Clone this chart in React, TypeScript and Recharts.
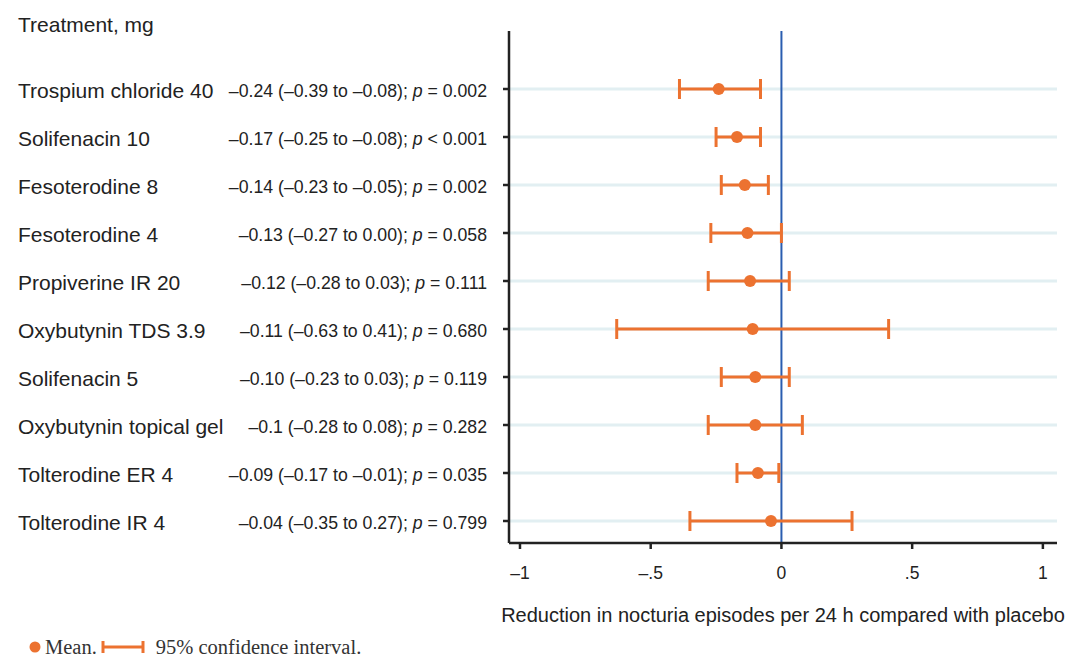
import { ScatterChart, Scatter, XAxis, YAxis, ReferenceLine, ErrorBar } from "recharts";

const treatments = [
  "Trospium chloride 40",
  "Solifenacin 10",
  "Fesoterodine 8",
  "Fesoterodine 4",
  "Propiverine IR 20",
  "Oxybutynin TDS 3.9",
  "Solifenacin 5",
  "Oxybutynin topical gel",
  "Tolterodine ER 4",
  "Tolterodine IR 4",
];
const means = [-0.24, -0.17, -0.14, -0.13, -0.12, -0.11, -0.1, -0.1, -0.09, -0.04];
const ciLow = [-0.39, -0.25, -0.23, -0.27, -0.28, -0.63, -0.23, -0.28, -0.17, -0.35];
const ciHigh = [-0.08, -0.08, -0.05, 0.0, 0.03, 0.41, 0.03, 0.08, -0.01, 0.27];
const effectLabels = [
  "–0.24 (–0.39 to –0.08); ",
  "–0.17 (–0.25 to –0.08); ",
  "–0.14 (–0.23 to –0.05); ",
  "–0.13 (–0.27 to 0.00); ",
  "–0.12 (–0.28 to 0.03); ",
  "–0.11 (–0.63 to 0.41); ",
  "–0.10 (–0.23 to 0.03); ",
  "–0.1 (–0.28 to 0.08); ",
  "–0.09 (–0.17 to –0.01); ",
  "–0.04 (–0.35 to 0.27); ",
];
const pLabels = ["= 0.002", "< 0.001", "= 0.002", "= 0.058", "= 0.111", "= 0.680", "= 0.119", "= 0.282", "= 0.035", "= 0.799"];
const xTicks = [-1, -0.5, 0, 0.5, 1];
const xTickLabels = ["–1", "–.5", "0", ".5", "1"];

const ORANGE = "#ec7230";
const INK = "#222";

const rows = treatments.map((name, i) => ({
  name,
  mean: means[i],
  ci: [means[i] - ciLow[i], ciHigh[i] - means[i]],
}));

function RowTick(props: any) {
  const { y, payload } = props;
  const i = treatments.indexOf(payload.value);
  return (
    <g>
      <text x={18} y={y} dy={8.5} fontSize={21} fill={INK}>
        {payload.value}
      </text>
      <text x={487} y={y} dy={7.5} fontSize={17.7} fill={INK} textAnchor="end">
        {effectLabels[i]}
        <tspan fontStyle="italic">p</tspan>
        {" " + pLabels[i]}
      </text>
    </g>
  );
}

function Dot(props: any) {
  const { cx, cy } = props;
  return <circle cx={cx} cy={cy} r={6} fill={ORANGE} />;
}

export default function App() {
  return (
    <div style={{ position: "absolute", left: 0, top: 0, width: 1084, height: 657, background: "#fff", fontFamily: "'Liberation Sans', Arial, sans-serif" }}>
      <ScatterChart width={1084} height={657} margin={{ top: 31, right: 27, bottom: 34, left: 0 }}>
        {treatments.map((t) => (
          <ReferenceLine key={t} y={t} stroke="#e2eff2" strokeWidth={3} />
        ))}
        <XAxis
          type="number"
          dataKey="mean"
          domain={[-1.042, 1.054]}
          ticks={xTicks}
          tickFormatter={(v: number) => xTickLabels[xTicks.indexOf(v)]}
          height={80}
          stroke={INK}
          strokeWidth={2.5}
          tickSize={6}
          tickMargin={18}
          tick={{ fill: INK, fontSize: 17.5 }}
          label={{ value: "Reduction in nocturia episodes per 24 h compared with placebo", position: "insideBottom", offset: 1, fontSize: 20, fill: INK }}
        />
        <YAxis
          type="category"
          dataKey="name"
          scale="point"
          reversed
          allowDuplicatedCategory={false}
          padding={{ top: 58, bottom: 22 }}
          width={509}
          stroke={INK}
          strokeWidth={2.5}
          tickSize={6}
          tick={<RowTick />}
          interval={0}
          label={{
            content: (p: any) => (
              <text x={(p.viewBox?.x ?? 0) + 18} y={(p.viewBox?.y ?? 31) + 1} fontSize={21} fill={INK}>
                Treatment, mg
              </text>
            ),
          }}
        />
        <ReferenceLine x={0} stroke="#2a5db0" strokeWidth={2} />
        <Scatter data={rows} shape={<Dot />} isAnimationActive={false}>
          <ErrorBar dataKey="ci" direction="x" width={10} stroke={ORANGE} strokeWidth={3} isAnimationActive={false} />
        </Scatter>
      </ScatterChart>
      <div style={{ position: "absolute", left: 28, top: 637, height: 20, lineHeight: "20px", fontFamily: "'Liberation Serif', 'Times New Roman', serif", fontSize: 20.5, color: "#333", display: "flex", alignItems: "center", whiteSpace: "nowrap" }}>
        <svg width={14} height={14} style={{ marginRight: 3 }}>
          <circle cx={7} cy={7} r={5.5} fill={ORANGE} />
        </svg>
        <span>Mean.</span>
        <svg width={46} height={14} style={{ marginLeft: 4, marginRight: 9 }}>
          <line x1={2} y1={7} x2={42} y2={7} stroke={ORANGE} strokeWidth={3} />
          <line x1={2} y1={1} x2={2} y2={13} stroke={ORANGE} strokeWidth={3} />
          <line x1={42} y1={1} x2={42} y2={13} stroke={ORANGE} strokeWidth={3} />
        </svg>
        <span>95% confidence interval.</span>
      </div>
    </div>
  );
}
